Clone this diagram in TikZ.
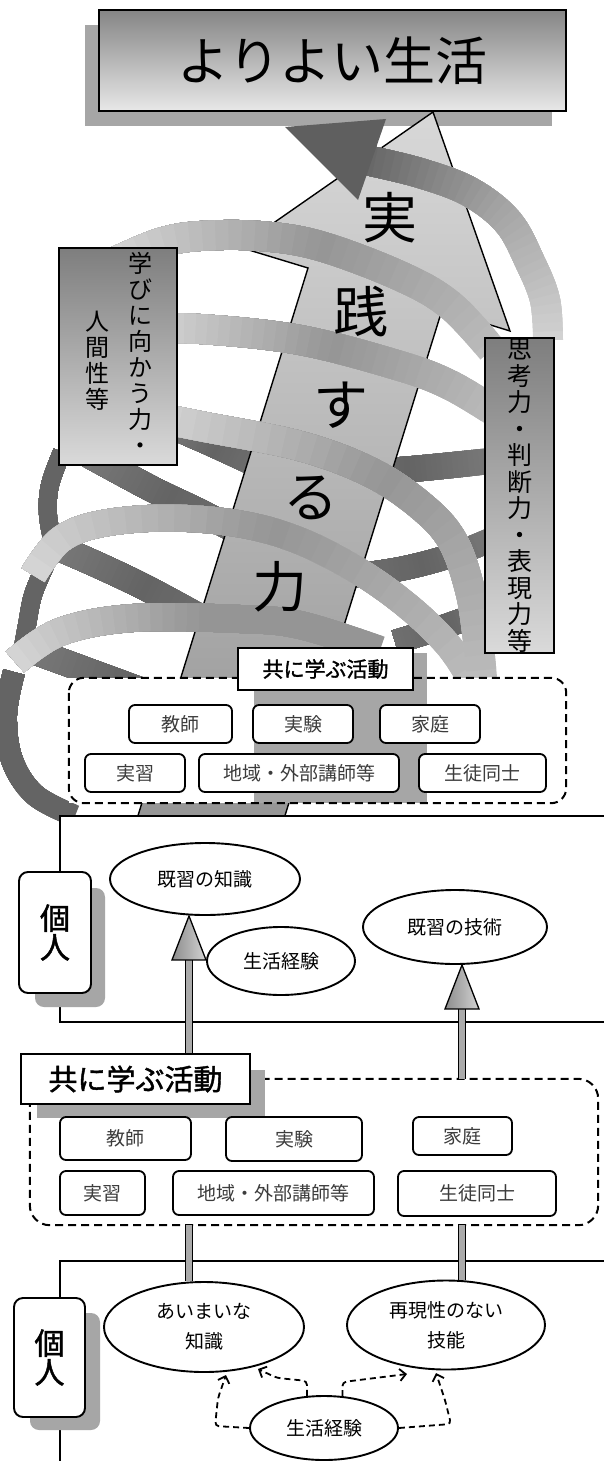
\documentclass[tikz,border=0pt]{standalone}
\usepackage{fontspec}
\setmainfont{Noto Sans CJK JP}
\newfontfamily\jpb{Noto Sans CJK JP}[FakeBold=1.5]
\usetikzlibrary{shapes.geometric,arrows.meta,calc}
\definecolor{fl}{HTML}{D6D6D6}
\definecolor{fm}{HTML}{959595}
\definecolor{fr}{HTML}{BCBCBC}
\definecolor{da}{HTML}{7A7A7A}
\definecolor{db}{HTML}{646464}
\definecolor{dc}{HTML}{707070}
\definecolor{tba}{HTML}{666666}
\definecolor{tbb}{HTML}{A4A4A4}
\definecolor{tbc}{HTML}{D2D2D2}
\definecolor{headdark}{HTML}{5F5F5F}
\definecolor{arrT}{HTML}{D8D8D8}
\definecolor{arrB}{HTML}{959595}
\definecolor{shadowgray}{HTML}{A6A6A6}
\definecolor{boxtext}{HTML}{3C3C3C}
\definecolor{goalT}{HTML}{858585}
\definecolor{goalB}{HTML}{E8E8E8}
\definecolor{mbT}{HTML}{7E7E7E}
\definecolor{mbB}{HTML}{DADADA}
\definecolor{shaftgray}{HTML}{AAAAAA}
\newcommand\ribbon[6]{%
  \draw[line width=#2, color=#6] #1;%
  \foreach \ribi in {31,...,1}{%
    \pgfmathsetmacro\ribf{(\ribi-0.5)/32}%
    \pgfmathsetmacro\ribL{\ribi/32*#3}%
    \ifdim\ribf pt<0.5pt\relax
      \pgfmathtruncatemacro\ribp{200*\ribf}%
      \colorlet{ribc}{#5!\ribp!#4}%
    \else
      \pgfmathtruncatemacro\ribp{200*(\ribf-0.5)}%
      \colorlet{ribc}{#6!\ribp!#5}%
    \fi
    \draw[line width=#2, color=ribc, dash pattern=on \ribL pt off 9000pt] #1;%
  }%
}
\begin{document}
\begin{tikzpicture}[x=1pt,y=-1pt,
  smallbox/.style={draw, line width=1.8pt, rounded corners=6pt, fill=white, inner sep=0pt, text=boxtext, font={\fontsize{19}{22}\selectfont}},
  ell/.style={draw, ellipse, line width=1.9pt, fill=white, inner sep=0pt, align=center, font={\fontsize{19}{30}\selectfont}},
  grpline/.style={dash pattern=on 8pt off 5pt, line width=2pt},
  labbox/.style={draw, line width=1.9pt, fill=white, inner sep=0pt},
  kojinbox/.style={draw, line width=1.9pt, fill=white, rounded corners=9pt, inner sep=0pt, align=center, font={\jpb\fontsize{30}{29}\selectfont}},
  bigchar/.style={font={\fontsize{55}{60}\selectfont}, inner sep=0pt},
  shaft/.style={double=shaftgray, double distance=5.5pt, line width=1.2pt},
  dasharr/.style={dash pattern=on 6pt off 4pt, line width=1.8pt, rounded corners=4pt, -{Straight Barb[length=6pt,width=12pt,line width=1.8pt]}},
  vtext/.style={align=center, inner sep=0pt}
]
\useasboundingbox (0,0) rectangle (603,1461);
\fill[white] (0,0) rectangle (603,1461);

% shadow of the top box
\fill[shadowgray] (85,25) rectangle (552,126);

% ---- back (dark) ribbon parts
\ribbon{plot[smooth,tension=0.6] coordinates {(165,424) (215,446) (262,468)}}{24pt}{110}{da}{db}{dc}
\ribbon{plot[smooth,tension=0.6] coordinates {(325,473) (400,470) (490,461)}}{26pt}{170}{dc}{db}{da}
\ribbon{plot[smooth,tension=0.6] coordinates {(80,450) (150,488) (200,512) (250,538)}}{26pt}{200}{da}{db}{dc}
\ribbon{plot[smooth,tension=0.6] coordinates {(345,577) (400,569) (450,556) (490,540)}}{24pt}{160}{dc}{db}{da}
\ribbon{plot[smooth,tension=0.6] coordinates {(52,545) (100,566) (150,590) (220,628)}}{26pt}{200}{da}{db}{dc}
\ribbon{plot[smooth,tension=0.6] coordinates {(395,642) (440,628) (490,610)}}{24pt}{110}{dc}{db}{da}
\ribbon{plot[smooth,tension=0.6] coordinates {(25,648) (80,668) (140,690) (210,716)}}{26pt}{210}{da}{db}{dc}
\ribbon{plot[smooth,tension=0.6] coordinates {(62,452) (50,485) (48,515) (54,548)}}{18pt}{110}{db}{db}{db}
\ribbon{plot[smooth,tension=0.6] coordinates {(45,566) (33,595) (27,625) (22,652)}}{18pt}{100}{db}{db}{db}
\ribbon{plot[smooth,tension=0.6] coordinates {(14,672) (6,715) (12,760) (35,795) (75,816)}}{22pt}{180}{db}{db}{db}

% ---- the big arrow
\shadedraw[top color=arrT, bottom color=arrB, line width=1.4pt]
  (433,112) -- (510,331) -- (442,310) -- (283,822) -- (136,822) -- (308,268) -- (239,247) -- cycle;

% ---- front (light) ribbon parts
\ribbon{plot[smooth,tension=0.6] coordinates {(15,662) (60,632) (133,618) (240,619) (300,625) (380,650)}}{28pt}{390}{fl}{fm}{fm}
\ribbon{plot[smooth,tension=0.6] coordinates {(33,575) (60,540) (100,524) (167,518) (240,524) (300,541) (360,572) (410,608) (448,645) (470,678)}}{27pt}{520}{fl}{fm}{fr}
\ribbon{plot[smooth,tension=0.6] coordinates {(150,416) (200,426) (300,446) (370,472) (420,505) (452,540) (470,590) (478,640) (482,678)}}{30pt}{485}{fl}{fm}{fr}
\ribbon{plot[smooth,tension=0.6] coordinates {(150,330) (200,329) (300,340) (400,366) (450,385) (495,412)}}{30pt}{365}{fl}{fm}{fr}
\ribbon{plot[smooth,tension=0.6] coordinates {(115,262) (160,243) (200,236) (260,236) (320,246) (400,276) (450,305) (492,350)}}{30pt}{420}{fl}{fm}{fr}
\ribbon{plot[smooth,tension=0.6] coordinates {(366,160) (420,173) (470,192) (508,222) (530,262) (545,300) (548,340)}}{30pt}{285}{tba}{tbb}{tbc}
\fill[headdark] (285,127) -- (386,119) -- (358,200) -- cycle;

% ---- text on the big arrow
\node[bigchar] (c1) at (390,218) {実};
\node[bigchar] (c2) at (361,312) {践};
\node[bigchar] (c3) at (341,405) {す};
\node[bigchar] (c4) at (311,498) {る};
\node[bigchar] (c5) at (280,587) {力};

% ---- side boxes
\node[draw, line width=1.8pt, top color=mbT, bottom color=mbB, minimum width=118pt, minimum height=217pt, inner sep=0pt] (manabi) at (118,356.5) {};
\node[vtext, font={\fontsize{24}{26}\selectfont}] (manabiR) at (140,353) {学\\び\\に\\向\\か\\う\\力\\・};
\node[vtext, font={\fontsize{24}{26}\selectfont}] (manabiL) at (97,361) {人\\間\\性\\等};
\node[draw, line width=1.8pt, top color=mbT, bottom color=mbB, minimum width=69pt, minimum height=315pt, inner sep=0pt, align=center, font={\fontsize{25}{26.5}\selectfont}] (shiko) at (519.5,495.5) {思\\考\\力\\・\\判\\断\\力\\・\\表\\現\\力\\等};

% ---- top goal box
\node[draw, line width=2pt, top color=goalT, bottom color=goalB, minimum width=467pt, minimum height=101pt, inner sep=0pt, font={\fontsize{52}{60}\selectfont}] (goal) at (332.5,60.5) {よりよい生活};

% ---- upper group of common activities
\node[fill=white, inner sep=0pt, minimum width=497pt, minimum height=125pt] (grp1) at (317.5,740.5) {};
\fill[shadowgray] (254,653) rectangle (427,803);
\draw[grpline, rounded corners=15pt] (grp1.north west) rectangle (grp1.south east);
\node[labbox, minimum width=175pt, minimum height=42pt, font={\jpb\fontsize{21}{24}\selectfont}] (lab1) at (325.5,669) {共に学ぶ活動};
\node[smallbox, minimum width=103pt, minimum height=38pt] (u1) at (180.5,724) {教師};
\node[smallbox, minimum width=100pt, minimum height=38pt] (u2) at (303,724) {実験};
\node[smallbox, minimum width=100pt, minimum height=38pt] (u3) at (430,724) {家庭};
\node[smallbox, minimum width=100pt, minimum height=38pt] (u4) at (135,773) {実習};
\node[smallbox, minimum width=200pt, minimum height=38pt] (u5) at (299,773) {地域・外部講師等};
\node[smallbox, minimum width=127pt, minimum height=38pt] (u6) at (482.5,773) {生徒同士};

% ---- upper individual box
\node[draw, line width=1.8pt, fill=white, minimum width=560pt, minimum height=206pt, inner sep=0pt] (ind1) at (340,919) {};
\fill[shadowgray, rounded corners=9pt] (35,888) rectangle (105,1007);
\node[kojinbox, minimum width=72pt, minimum height=121pt] (kojin1) at (55,932.5) {個\\人};
\node[ell, minimum width=190pt, minimum height=72pt] (chi1) at (205,879) {既習の知識};
\node[ell, minimum width=184pt, minimum height=74pt] (gi1) at (455,927) {既習の技術};
\node[ell, minimum width=148pt, minimum height=68pt] (sei1) at (281,961) {生活経験};

% ---- lower group of common activities
\node[fill=white, inner sep=0pt, minimum width=568pt, minimum height=146pt] (grp2) at (314,1152) {};
\draw[grpline, rounded corners=20pt] (grp2.north west) rectangle (grp2.south east);
\fill[shadowgray] (37,1070) rectangle (265,1118);
\node[labbox, minimum width=229pt, minimum height=50pt, font={\jpb\fontsize{29}{32}\selectfont}] (lab2) at (135.5,1079) {共に学ぶ活動};
\node[smallbox, minimum width=131pt, minimum height=43pt] (l1) at (125.5,1138.5) {教師};
\node[smallbox, minimum width=136pt, minimum height=44pt] (l2) at (294,1139) {実験};
\node[smallbox, minimum width=99pt, minimum height=38pt] (l3) at (462.5,1136) {家庭};
\node[smallbox, minimum width=85pt, minimum height=44pt] (l4) at (102.5,1193) {実習};
\node[smallbox, minimum width=201pt, minimum height=44pt] (l5) at (273.5,1193) {地域・外部講師等};
\node[smallbox, minimum width=158pt, minimum height=45pt] (l6) at (477,1193.5) {生徒同士};

% ---- lower individual box
\node[draw, line width=1.8pt, fill=white, minimum width=560pt, minimum height=218pt, inner sep=0pt] (ind2) at (340,1370) {};
\fill[shadowgray, rounded corners=9pt] (30,1313) rectangle (100,1430);
\node[kojinbox, minimum width=71pt, minimum height=119pt] (kojin2) at (49.5,1357.5) {個\\人};
\node[ell, minimum width=200pt, minimum height=90pt] (aim) at (204,1327) {あいまいな\\知識};
\node[ell, minimum width=198pt, minimum height=89pt] (sai) at (446,1325) {再現性のない\\技能};
\node[ell, minimum width=148pt, minimum height=64pt] (sei2) at (324,1428) {生活経験};

% ---- thick arrows
\coordinate (a1x) at (189,0);
\coordinate (a2x) at (462,0);
\draw[shaft] (lab2.north -| a1x) -- ($(chi1.south -| a1x)+(0,43)$);
\shadedraw[left color=gray!90, right color=gray!35, line width=1.3pt]
  ($(chi1.south -| a1x)+(-17,44)$) -- (chi1.south -| a1x) -- ($(chi1.south -| a1x)+(17,44)$) -- cycle;
\draw[shaft] (grp2.north -| a2x) -- ($(gi1.south -| a2x)+(0,43)$);
\shadedraw[left color=gray!90, right color=gray!35, line width=1.3pt]
  ($(gi1.south -| a2x)+(-17,44)$) -- (gi1.south -| a2x) -- ($(gi1.south -| a2x)+(17,44)$) -- cycle;
\draw[shaft] (grp2.south -| a1x) -- (aim.north -| a1x);
\draw[shaft] (grp2.south -| a2x) -- (sai.north -| a2x);

% ---- dashed arrows from everyday experience
\coordinate (tA) at (226,1375);
\coordinate (tB) at (258,1369);
\coordinate (tC) at (407,1374);
\coordinate (tD) at (436,1373);
\draw[dasharr] (sei2.west) -- (215,1426) -- (218,1398) -- (tA);
\draw[dasharr] (sei2.118) -- ++(0,-15) -- ++(-30,-3) -- (tB);
\draw[dasharr] (sei2.60) -- ++(0,-14) -- (tC);
\draw[dasharr] (sei2.east) -- (451,1424) -- (445,1400) -- (tD);
\end{tikzpicture}
\end{document}
